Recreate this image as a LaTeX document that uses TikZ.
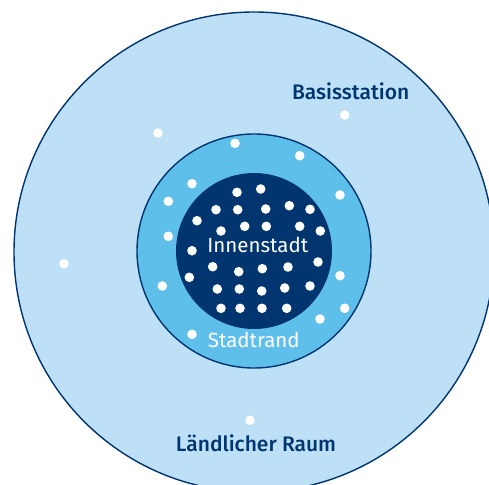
\documentclass[tikz,border=0pt]{standalone}
\usepackage{fontspec}
\setmainfont{Fira Sans}[UprightFont={* Medium}]
\newfontfamily\lightfont{Fira Sans}
\begin{document}
\definecolor{ruralblue}{HTML}{BDE0F6}
\definecolor{suburbblue}{HTML}{5FBFEB}
\definecolor{navy}{HTML}{00356F}
\begin{tikzpicture}[x=1pt,y=-1pt,
  zone/.style={circle, inner sep=0pt, line width=1.4pt, draw=navy},
  station/.style={circle, fill=white, inner sep=0pt, minimum size=9.6pt},
  darklabel/.style={anchor=base, text=navy, font=\fontsize{21}{22}\selectfont},
  lightlabel/.style={anchor=base, text=white, font=\lightfont\fontsize{20.5}{22}\selectfont}]
  \useasboundingbox (0,0) rectangle (489,484);
  \begin{scope}
    \clip (0,0) rectangle (489,484);
    % coverage zones
    \node[zone, fill=ruralblue, minimum size=480pt] (rural) at (254,252) {};
    \node[zone, fill=suburbblue, minimum size=234pt] (suburb) at (254,251) {};
    \node[circle, inner sep=0pt, fill=navy, minimum size=156pt] (center) at (254,251) {};
  \end{scope}
  % base stations, sparse outside, dense in the centre
  \foreach \px/\py [count=\i] in {
      344.7/115, 158/133, 64/263.7, 250/420.3,
      235/143.3, 299.7/155.7, 192/183.7, 168.3/201.3, 340/195, 168.3/236.3,
      162.3/286, 340/275.7, 344.7/308.3, 320/319, 192/334.3,
      237/192.3, 260.7/189, 216/209.7, 237.7/209.7, 265.7/209, 289.3/205.7,
      310/209.3, 197/220.7, 221/231, 244.7/226.3, 266.3/226.3, 299.7/226.3,
      320.3/231, 192/250.7, 318/262, 212.7/266.7, 238.7/271.7, 262.3/268.7,
      288/267, 189.3/277.3, 217.3/289, 239.3/289, 261.7/291, 284.7/288,
      310/286, 221/308.3, 240/308.3, 262/308.3, 286.7/308.3}
    \node[station] (bs\i) at (\px,\py) {};
  % labels
  \node[darklabel] (lblbase) at (350.7,99.7) {Basisstation};
  \node[darklabel] (lblrural) at (256,451.3) {Ländlicher Raum};
  \node[lightlabel] (lblcenter) at (257.8,252.3) {Innenstadt};
  \node[lightlabel] (lblsuburb) at (253.8,347.3) {Stadtrand};
\end{tikzpicture}
\end{document}
